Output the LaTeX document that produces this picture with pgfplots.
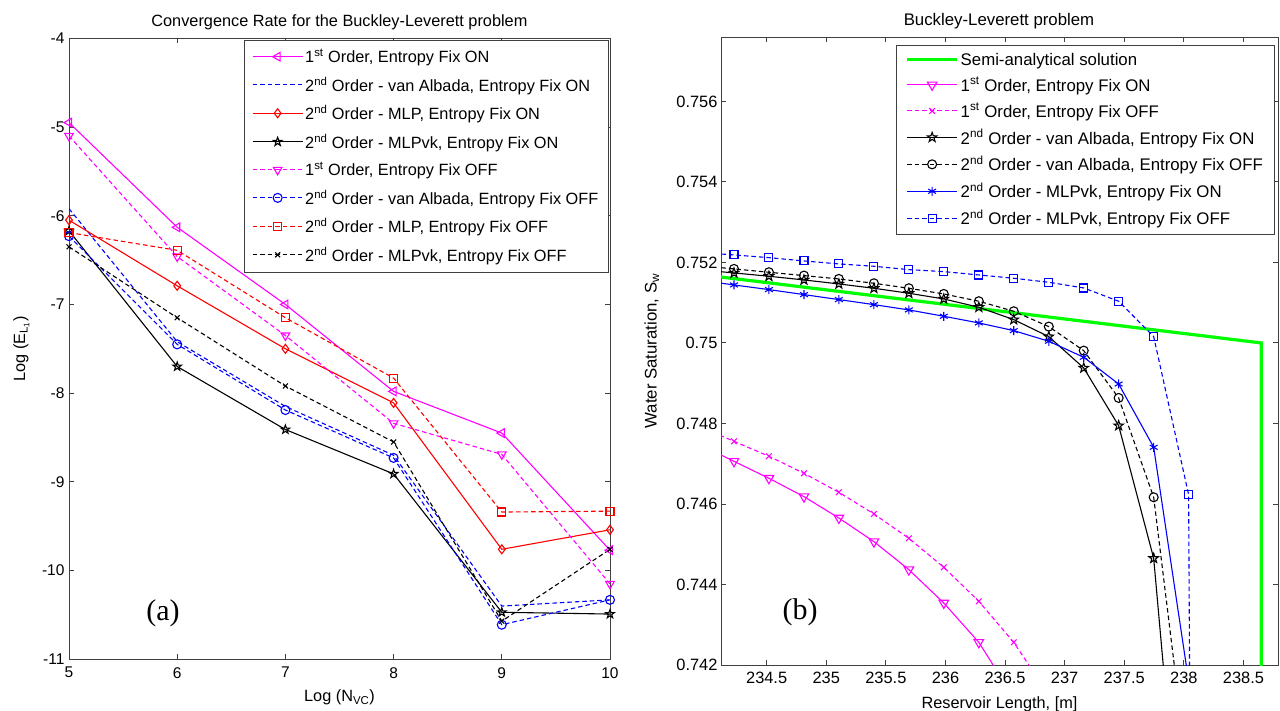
\documentclass[border=0pt]{standalone}
\usepackage{fontspec}
\setmainfont{Liberation Sans}
\newfontfamily\timesfont{Liberation Serif}
\usepackage{pgfplots}
\pgfplotsset{compat=1.18}

\pgfdeclareplotmark{pentagram}{%
  \pgfpathmoveto{\pgfpointpolar{90}{\pgfplotmarksize}}%
  \pgfpathlineto{\pgfpointpolar{126}{0.4\pgfplotmarksize}}%
  \pgfpathlineto{\pgfpointpolar{162}{\pgfplotmarksize}}%
  \pgfpathlineto{\pgfpointpolar{198}{0.4\pgfplotmarksize}}%
  \pgfpathlineto{\pgfpointpolar{234}{\pgfplotmarksize}}%
  \pgfpathlineto{\pgfpointpolar{270}{0.4\pgfplotmarksize}}%
  \pgfpathlineto{\pgfpointpolar{306}{\pgfplotmarksize}}%
  \pgfpathlineto{\pgfpointpolar{342}{0.4\pgfplotmarksize}}%
  \pgfpathlineto{\pgfpointpolar{18}{\pgfplotmarksize}}%
  \pgfpathlineto{\pgfpointpolar{54}{0.4\pgfplotmarksize}}%
  \pgfpathclose
  \pgfusepathqstroke
}

\definecolor{mag}{rgb}{1,0,1}
\definecolor{grn}{rgb}{0,1,0}
\definecolor{axgray}{rgb}{0.25,0.25,0.25}

\newcommand\fa{\fontsize{16.3bp}{19bp}\selectfont}
\newcommand\fb{\fontsize{16.8bp}{19.5bp}\selectfont}
\newcommand\ft{\fontsize{15.5bp}{18bp}\selectfont}
\newcommand\ftr{\fontsize{16.4bp}{19bp}\selectfont}

\pgfplotsset{
  myaxis/.style={
    scale only axis,
    axis line style={axgray, line width=0.9bp},
    tick align=inside,
    major tick length=5bp,
    tick style={axgray, line width=0.9bp},
    legend cell align=left,
    legend image code/.code={\draw[mark repeat=2,mark phase=2] plot coordinates {(0bp,0bp) (25bp,0bp) (50bp,0bp)};},
  },
  solidl/.style={line width=1.1bp, solid},
  dashl/.style={line width=1.1bp, dash pattern=on 4.5bp off 3bp},
}

\begin{document}
\begin{tikzpicture}
\path[use as bounding box] (0,0) rectangle (1280bp,-711bp);

% ---------------- left axis ----------------
\begin{axis}[myaxis,
  at={(69bp,-38.3bp)}, anchor=north west,
  width=541bp, height=621bp,
  xmin=5, xmax=10, ymin=-11, ymax=-4,
  xtick={5,6,7,8,9,10}, xticklabels={5,6,7,8,9,10},
  ytick={-11,-10,-9,-8,-7,-6,-5,-4},
  yticklabels={-11,-10,-9,-8,-7,-6,-5,-4},
  tick label style={font=\ft},
  xticklabel style={yshift=-4.5bp},
  yticklabel style={xshift=-1bp},
  legend style={at={(0.9963,0.9973)}, anchor=north east, font=\fa,
    draw=axgray, inner xsep=7.5bp, inner ysep=7bp, row sep=8.5bp},
]
\addplot[mag, solidl, mark=triangle, mark size=5bp, mark options={solid, rotate=90}]
  coordinates {(5,-4.95) (6,-6.13) (7,-7.00) (8,-7.98) (9,-8.45) (10,-9.77)};
\addlegendentry{1\textsuperscript{st} Order, Entropy Fix ON}
\addplot[blue, dashl, no markers]
  coordinates {(5,-5.92) (6,-7.42) (7,-8.15) (8,-8.70) (9,-10.40) (10,-10.33)};
\addlegendentry{2\textsuperscript{nd} Order - van Albada, Entropy Fix ON}
\addplot[red, solidl, mark=diamond, mark size=4.5bp, mark options={solid}]
  coordinates {(5,-6.05) (6,-6.79) (7,-7.50) (8,-8.11) (9,-9.76) (10,-9.54)};
\addlegendentry{2\textsuperscript{nd} Order - MLP, Entropy Fix ON}
\addplot[black, solidl, mark=pentagram, mark size=4.5bp, mark options={solid}]
  coordinates {(5,-6.17) (6,-7.70) (7,-8.41) (8,-8.91) (9,-10.47) (10,-10.49)};
\addlegendentry{2\textsuperscript{nd} Order - MLPvk, Entropy Fix ON}
\addplot[mag, dashl, mark=triangle, mark size=5bp, mark options={solid, rotate=180}]
  coordinates {(5,-5.10) (6,-6.46) (7,-7.35) (8,-8.34) (9,-8.69) (10,-10.15)};
\addlegendentry{1\textsuperscript{st} Order, Entropy Fix OFF}
\addplot[blue, dashl, mark=o, mark size=4.5bp, mark options={solid}]
  coordinates {(5,-6.23) (6,-7.45) (7,-8.19) (8,-8.73) (9,-10.61) (10,-10.33)};
\addlegendentry{2\textsuperscript{nd} Order - van Albada, Entropy Fix OFF}
\addplot[red, dashl, mark=square, mark size=4bp, mark options={solid}]
  coordinates {(5,-6.19) (6,-6.39) (7,-7.15) (8,-7.83) (9,-9.34) (10,-9.33)};
\addlegendentry{2\textsuperscript{nd} Order - MLP, Entropy Fix OFF}
\addplot[black, dashl, mark=x, mark size=3.5bp, mark options={solid}]
  coordinates {(5,-6.35) (6,-7.15) (7,-7.92) (8,-8.55) (9,-10.57) (10,-9.76)};
\addlegendentry{2\textsuperscript{nd} Order - MLPvk, Entropy Fix OFF}
\end{axis}

% ---------------- right axis ----------------
\begin{axis}[myaxis,
  at={(721bp,-37bp)}, anchor=north west,
  width=557bp, height=628bp,
  xmin=234.117, xmax=238.79, ymin=0.742, ymax=0.7576,
  xtick={234.5,235,235.5,236,236.5,237,237.5,238,238.5},
  xticklabels={234.5,235,235.5,236,236.5,237,237.5,238,238.5},
  ytick={0.742,0.744,0.746,0.748,0.75,0.752,0.754,0.756},
  yticklabels={0.742,0.744,0.746,0.748,0.75,0.752,0.754,0.756},
  tick label style={font=\ftr},
  xticklabel style={yshift=-4bp},
  legend style={at={(0.9928,0.987)}, anchor=north east, font=\fb,
    draw=axgray, inner xsep=9bp, inner ysep=5.5bp, row sep=6.7bp},
]
\addplot[grn, line width=3.2bp, no markers]
  coordinates {(234.0,0.75168) (238.65,0.75) (238.65,0.73)};
\addlegendentry{Semi-analytical solution}
\addplot[mag, solidl, mark=triangle, mark size=5.5bp, mark options={solid, rotate=180}]
  coordinates {(233.933,0.74748) (234.226,0.747060) (234.519,0.746638) (234.813,0.746182)
  (235.106,0.745652) (235.400,0.745064) (235.693,0.744369) (235.986,0.743540)
  (236.280,0.742563) (236.573,0.74119)};
\addlegendentry{1\textsuperscript{st} Order, Entropy Fix ON}
\addplot[mag, dashl, mark=x, mark size=4bp, mark options={solid}]
  coordinates {(233.933,0.74793) (234.226,0.747557) (234.519,0.747185) (234.813,0.746762)
  (235.106,0.746290) (235.400,0.745752) (235.693,0.745147) (235.986,0.744427)
  (236.280,0.743582) (236.573,0.742563) (236.867,0.74126)};
\addlegendentry{1\textsuperscript{st} Order, Entropy Fix OFF}
\addplot[black, solidl, mark=pentagram, mark size=5bp, mark options={solid}]
  coordinates {(233.933,0.75182) (234.226,0.751739) (234.519,0.751657) (234.813,0.751565)
  (235.106,0.751466) (235.400,0.751358) (235.693,0.751234) (235.986,0.751093)
  (236.280,0.750886) (236.573,0.750579) (236.867,0.750157) (237.160,0.749379)
  (237.453,0.747946) (237.747,0.744650) (238.040,0.73495)};
\addlegendentry{2\textsuperscript{nd} Order - van Albada, Entropy Fix ON}
\addplot[black, dashl, mark=o, mark size=4.5bp, mark options={solid}]
  coordinates {(233.933,0.75192) (234.226,0.751839) (234.519,0.751756) (234.813,0.751673)
  (235.106,0.751590) (235.400,0.751482) (235.693,0.751358) (235.986,0.751217)
  (236.280,0.751036) (236.573,0.750787) (236.867,0.750406) (237.160,0.749809)
  (237.453,0.748634) (237.747,0.746166) (238.040,0.7391)};
\addlegendentry{2\textsuperscript{nd} Order - van Albada, Entropy Fix OFF}
\addplot[blue, solidl, mark=asterisk, mark size=4.5bp, mark options={solid}]
  coordinates {(233.933,0.75156) (234.226,0.751441) (234.519,0.751325) (234.813,0.751201)
  (235.106,0.751077) (235.400,0.750952) (235.693,0.750820) (235.986,0.750663)
  (236.280,0.750497) (236.573,0.750306) (236.867,0.750042) (237.160,0.749644)
  (237.453,0.748981) (237.747,0.747408) (238.040,0.741604)};
\addlegendentry{2\textsuperscript{nd} Order - MLPvk, Entropy Fix ON}
\addplot[blue, dashl, mark=square, mark size=4bp, mark options={solid}]
  coordinates {(233.933,0.75225) (234.226,0.752186) (234.519,0.752119) (234.813,0.752037)
  (235.106,0.751963) (235.400,0.751905) (235.693,0.751821) (235.986,0.751772)
  (236.280,0.751689) (236.573,0.751607) (236.867,0.751507) (237.160,0.751366)
  (237.453,0.751036) (237.747,0.750157) (238.040,0.746231) (238.07,0.73)};
\addlegendentry{2\textsuperscript{nd} Order - MLPvk, Entropy Fix OFF}
\end{axis}

% ---------------- titles and labels ----------------
\node[anchor=base, font=\fa] at (339.4bp,-26.7bp) {Convergence Rate for the Buckley-Leverett problem};
\node[anchor=base, font=\fb] at (999bp,-25bp) {Buckley-Leverett problem};
\node[anchor=base, font=\fa] at (339.5bp,-701.5bp) {Log (N\textsubscript{VC})};
\node[anchor=base, font=\fa, rotate=90] at (25bp,-349bp) {Log (E\textsubscript{L\textsubscript{1}})};
\node[anchor=base, font=\fb, rotate=90] at (656.5bp,-351bp) {Water Saturation, S\textsubscript{w}};
\node[anchor=base, font=\fa] at (999.5bp,-708.5bp) {Reservoir Length, [m]};
\node[anchor=base, font=\timesfont\fontsize{30bp}{34bp}\selectfont] at (163bp,-620bp) {(a)};
\node[anchor=base, font=\timesfont\fontsize{30bp}{34bp}\selectfont] at (800bp,-619.5bp) {(b)};
\end{tikzpicture}
\end{document}
